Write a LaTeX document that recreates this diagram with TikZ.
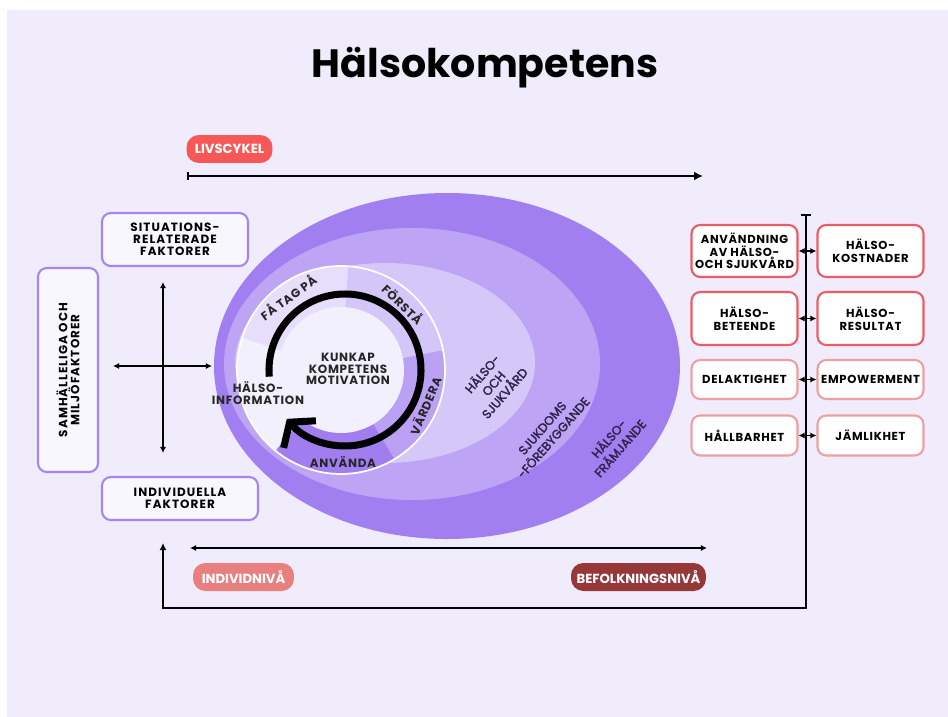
\documentclass[tikz,border=0pt]{standalone}
\usepackage{fontspec}
\setmainfont{Poppins}
\newfontfamily\ovalfont{Poppins}[FakeBold=2.5]
\usetikzlibrary{arrows.meta,positioning}
\definecolor{bglav}{RGB}{240,236,251}
\definecolor{ovalA}{RGB}{162,127,241}
\definecolor{ovalB}{RGB}{189,164,244}
\definecolor{ovalC}{RGB}{213,199,248}
\definecolor{segFa}{RGB}{230,222,250}
\definecolor{segForsta}{RGB}{212,198,248}
\definecolor{segVardera}{RGB}{187,161,243}
\definecolor{segAnvanda}{RGB}{160,126,240}
\definecolor{innerdisc}{RGB}{243,240,253}
\definecolor{boxline}{RGB}{166,133,242}
\definecolor{boxfill}{RGB}{249,247,254}
\definecolor{redline}{RGB}{236,92,100}
\definecolor{pinkline}{RGB}{238,160,160}
\definecolor{pillred}{RGB}{246,88,88}
\definecolor{pillsalmon}{RGB}{232,128,128}
\definecolor{pilldark}{RGB}{150,56,56}
\definecolor{ovaltext}{RGB}{50,36,78}

\tikzset{
  factorbox/.style={draw=boxline, line width=1.2pt, fill=boxfill, rounded corners=5pt,
    align=center, inner sep=0pt,
    font=\fontsize{6.8}{6.9}\selectfont\bfseries\addfontfeatures{LetterSpace=9}},
  outcomebox/.style={draw=redline, line width=1.2pt, fill=white, rounded corners=5pt,
    align=center, inner sep=0pt, minimum width=2.12cm,
    font=\fontsize{6.6}{7.2}\selectfont\bfseries\addfontfeatures{LetterSpace=6}},
  softbox/.style={outcomebox, draw=pinkline},
  pill/.style={rounded corners=7pt, text=white, minimum height=0.56cm, inner sep=0pt,
    font=\fontsize{7.5}{8}\selectfont\bfseries},
  ringlabel/.style={font=\fontsize{6.8}{6.7}\selectfont\bfseries\addfontfeatures{LetterSpace=6},
    text=black!85, align=center},
  ovallabel/.style={font=\fontsize{7}{8.4}\ovalfont, text=ovaltext, align=center, rotate=49},
  dblarrow/.style={{Latex[length=3.5pt,width=3.5pt]}-{Latex[length=3.5pt,width=3.5pt]}, line width=1pt},
}

\begin{document}
\begin{tikzpicture}[x=0.02cm, y=-0.02cm]
  \useasboundingbox (0,0) rectangle (948,717);
  % Background
  \fill[white] (0,0) rectangle (948,717);
  \fill[bglav] (7,10) rectangle (948,717);

  % Title
  \node[font=\fontsize{22.5}{26}\selectfont\bfseries] (title) at (485,68) {Hälsokompetens};

  % Livscykel
  \node[pill, fill=pillred, minimum width=1.72cm] (liv) at (229.5,149) {LIVSCYKEL};
  \coordinate (livA) at (187,176);
  \coordinate (livB) at (703,176);
  \draw[line width=1.1pt, {Bar[width=5pt]}-{Latex[length=5pt,width=5pt]}] (livA) -- (livB);

  % Nested ovals
  \fill[ovalA] (447,366) ellipse [x radius=233, y radius=173];
  \fill[ovalB] (412,364) ellipse [x radius=188, y radius=136];
  \fill[ovalC] (385,363) ellipse [x radius=150, y radius=100];

  % Ring of steps
  \coordinate (hub) at (341,370);
  \fill[innerdisc] (hub) circle [radius=104];
  \fill[segFa] (hub) -- ++(-162:104) arc [start angle=-162, end angle=-86, radius=104] -- cycle;
  \fill[segForsta] (hub) -- ++(-86:104) arc [start angle=-86, end angle=-11, radius=104] -- cycle;
  \fill[segVardera] (hub) -- ++(-11:104) arc [start angle=-11, end angle=59, radius=104] -- cycle;
  \fill[segAnvanda] (hub) -- ++(59:104) arc [start angle=59, end angle=129, radius=104] -- cycle;
  \fill[innerdisc] (hub) circle [radius=63];
  \draw[white, line width=1pt] (hub) circle [radius=104];

  % Cycle arrow
  \coordinate (spin) at (345,370);
  \draw[line width=4pt, -{Straight Barb[length=9pt,width=24pt]}]
    (spin) ++(-185:76) arc [start angle=-185, end angle=140, radius=76];

  % Ring texts
  \node[ringlabel] (core) at (348,369) {KUNKAP\\KOMPETENS\\MOTIVATION};
  \node[ringlabel] (info) at (258,393) {HÄLSO-\\INFORMATION};
  \node[ringlabel, rotate=36] (fa) at (288,297) {FÅ TAG PÅ};
  \node[ringlabel, rotate=-44] (forsta) at (403,304) {FÖRSTÅ};
  \node[ringlabel, rotate=67] (vardera) at (425,406) {VÄRDERA};
  \node[ringlabel] (anvanda) at (343,462) {ANVÄNDA};

  % Oval texts
  \node[ovallabel] (vard) at (493,383) {HÄLSO-\\OCH\\SJUKVÅRD};
  \node[ovallabel] (forebygg) at (548,433) {SJUKDOMS\\-FÖREBYGGANDE};
  \node[ovallabel] (framj) at (614,443) {HÄLSO-\\FRÄMJANDE};

  % Factors
  \node[factorbox, minimum width=2.92cm, minimum height=1.06cm] (sit) at (175,239.5) {SITUATIONS-\\RELATERADE\\FAKTORER};
  \node[factorbox, rotate=90, minimum width=4.08cm, minimum height=1.2cm] (samh) at (68,370) {SAMHÄLLELIGA OCH\\MILJÖFAKTORER};
  \node[factorbox, minimum width=3.12cm, minimum height=0.86cm] (indiv) at (180,498.5) {INDIVIDUELLA\\FAKTORER};
  \coordinate (crossN) at (163,282);
  \coordinate (crossS) at (163,453);
  \coordinate (crossW) at (113,366);
  \coordinate (crossE) at (212,366);
  \draw[dblarrow] (crossN) -- (crossS);
  \draw[dblarrow] (crossW) -- (crossE);

  % Axis and loop back
  \coordinate (axisTop) at (806,214);
  \coordinate (axisBot) at (806,608);
  \coordinate (loopEnd) at (163,543);
  \draw[line width=1.1pt, {Bar[width=6pt]}-{Latex[length=4pt,width=4pt]}] (axisTop) -- (axisBot) -| (loopEnd);

  % Outcomes
  \node[outcomebox, minimum height=1.04cm] (anv) at (744.5,251) {ANVÄNDNING\\AV HÄLSO-\\OCH SJUKVÅRD};
  \node[outcomebox, minimum height=1.04cm] (kost) at (870.5,251) {HÄLSO-\\KOSTNADER};
  \node[outcomebox, minimum height=1.06cm] (beteende) at (744.5,318.5) {HÄLSO-\\BETEENDE};
  \node[outcomebox, minimum height=1.06cm] (resultat) at (870.5,318.5) {HÄLSO-\\RESULTAT};
  \node[softbox, minimum height=0.78cm] (delakt) at (744.5,379.5) {DELAKTIGHET};
  \node[softbox, minimum height=0.78cm] (empow) at (870.5,379.5) {EMPOWERMENT};
  \node[softbox, minimum height=0.8cm] (hallb) at (744.5,435.5) {HÅLLBARHET};
  \node[softbox, minimum height=0.8cm] (jaml) at (870.5,435.5) {JÄMLIKHET};
  \foreach \a/\b in {anv/kost, beteende/resultat, delakt/empow, hallb/jaml}
    \draw[dblarrow] (\a) -- (\b);

  % Levels
  \coordinate (levelW) at (190,548);
  \coordinate (levelE) at (707,548);
  \draw[dblarrow] (levelW) -- (levelE);
  \node[pill, fill=pillsalmon, minimum width=2.02cm] (indivniva) at (243.5,577) {INDIVIDNIVÅ};
  \node[pill, fill=pilldark, minimum width=2.7cm] (befolk) at (638.5,577) {BEFOLKNINGSNIVÅ};
\end{tikzpicture}
\end{document}
